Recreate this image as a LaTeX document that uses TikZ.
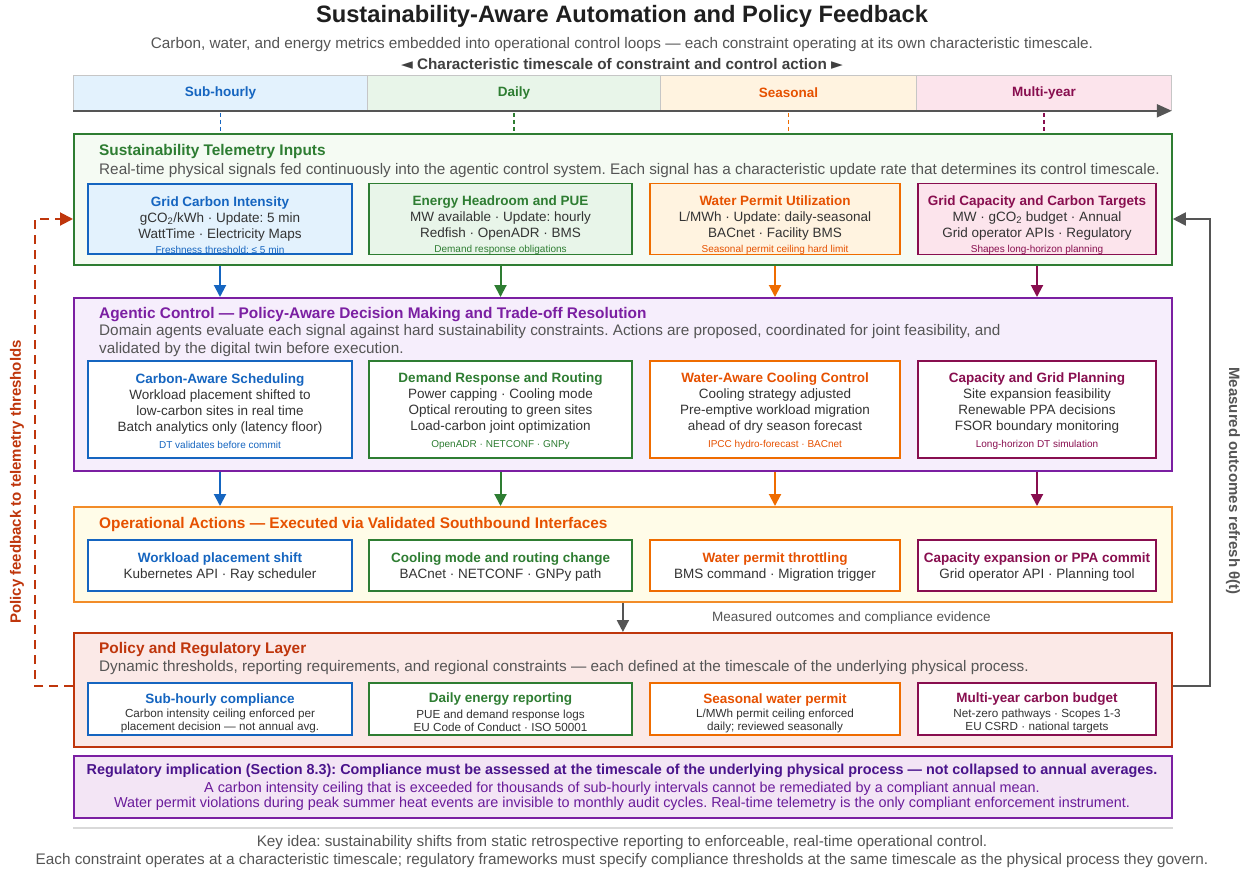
\documentclass[tikz,border=0pt]{standalone}
\usepackage{fontspec}
\setmainfont{Liberation Sans}
\newfontfamily\symfont{DejaVu Sans}
\usetikzlibrary{arrows.meta,positioning}

\definecolor{cblue}{HTML}{1565C0}
\definecolor{fblue}{HTML}{E3F2FD}
\definecolor{cgreen}{HTML}{2E7D32}
\definecolor{fgreen}{HTML}{E8F5E9}
\definecolor{corange}{HTML}{E65100}
\definecolor{borange}{HTML}{EF6C00}
\definecolor{forange}{HTML}{FFF3E0}
\definecolor{cmag}{HTML}{880E4F}
\definecolor{fmag}{HTML}{FCE4EC}
\definecolor{cpurple}{HTML}{7B1FA2}
\definecolor{fpurple}{HTML}{F6EEFC}
\definecolor{dpurple}{HTML}{4A148C}
\definecolor{mpurple}{HTML}{6A1B9A}
\definecolor{fregul}{HTML}{F3E5F5}
\definecolor{cred}{HTML}{BF360C}
\definecolor{fred}{HTML}{FBE9E7}
\definecolor{lorange}{HTML}{F28C28}
\definecolor{fcream}{HTML}{FFFCE8}
\definecolor{ftel}{HTML}{F5FBF3}
\definecolor{txt}{HTML}{333333}
\definecolor{gtxt}{HTML}{555555}
\definecolor{garrow}{HTML}{555555}

\newcommand{\ctitle}[2]{{\bfseries\color{#1}#2}}
\newcommand{\cnote}[2]{{\fontsize{10}{12}\selectfont\color{#1}#2}}
\newcommand{\cpush}[1]{\rule{0pt}{#1pt}}

\tikzset{
  tier/.style={draw=#1, line width=1.8pt, minimum width=1098, anchor=north west, inner sep=0},
  card/.style={draw=#1, line width=1.3pt, align=center, inner sep=0, text=txt,
    font=\fontsize{13.5}{16}\selectfont},
  pcard/.style={draw=#1, line width=1.3pt, inner sep=0, fill=white, minimum height=52},
  phead/.style={inner sep=0, text=#1, font=\fontsize{13.5}{16}\selectfont\bfseries},
  pbody/.style={align=center, inner sep=0, text=txt, font=\fontsize{11.7}{13}\selectfont},
  band/.style={draw=gray!45, line width=0.8pt, minimum height=35, anchor=north west,
    text=#1, font=\fontsize{13.5}{16}\selectfont\bfseries},
  ttitle/.style={anchor=west, inner sep=0, text=#1, font=\fontsize{15.4}{18}\selectfont\bfseries},
  tdesc/.style={anchor=west, inner sep=0, text=gtxt, align=left, font=\fontsize{15.3}{18}\selectfont},
  arr/.style={draw=#1, line width=2pt, -{Triangle[length=12pt,width=12pt]}},
  tickline/.style={draw=#1, line width=1.2pt, dash pattern=on 4pt off 3pt},
  fbdash/.style={draw=cred, line width=2pt, dash pattern=on 9pt off 6pt, -{Triangle[length=13pt,width=13pt]}},
  fbsolid/.style={draw=garrow, line width=2pt, -{Triangle[length=13pt,width=13pt]}},
  sidelab/.style={inner sep=0, text=#1, font=\fontsize{15}{18}\selectfont\bfseries}
}

\begin{document}
\frenchspacing
\begin{tikzpicture}[x=1pt,y=-1pt]
\fill[white] (0,0) rectangle (1247,873);
\useasboundingbox (0,0) rectangle (1247,873);

\node[text=black!88, font=\fontsize{23.7}{28}\selectfont\bfseries] (title) at (622,16) {Sustainability-Aware Automation and Policy Feedback};
\node[text=gtxt, font=\fontsize{15.3}{18}\selectfont] (subtitle) at (622,45) {Carbon, water, and energy metrics embedded into operational control loops — each constraint operating at its own characteristic timescale.};
\node[text=black!75, font=\fontsize{15.3}{17}\selectfont\bfseries] (tslab) at (622,64) {{\symfont ◄} Characteristic timescale of constraint and control action {\symfont ►}};

\node[band=cblue, fill=fblue, minimum width=294] (b1) at (73,75) {Sub-hourly};
\node[band=cgreen, fill=fgreen, minimum width=293] (b2) at (367,75) {Daily};
\node[band=corange, fill=forange, minimum width=256] (b3) at (660,75) {Seasonal};
\node[band=cmag, fill=fmag, minimum width=255] (b4) at (916,75) {Multi-year};
\draw[draw=garrow, line width=2pt, -{Triangle[length=15pt,width=13pt]}] (b1.south west) -- (b4.south east);

\node[tier=cgreen, fill=ftel, minimum height=131] (L1) at (73,133) {};
\node[tier=cpurple, fill=fpurple, minimum height=173] (L2) at (73,297) {};
\node[tier=lorange, fill=fcream, minimum height=95] (L3) at (73,506) {};
\node[tier=cred, fill=fred, minimum height=114] (L4) at (73,632) {};
\node[tier=cpurple, fill=fregul, minimum height=62, line width=1.5pt] (reg) at (73,755) {};

\draw[tickline=cblue] ([yshift=-2pt]b1.south) -- (b1.south |- L1.north);
\draw[tickline=cgreen] ([yshift=-2pt]b2.south) -- (b2.south |- L1.north);
\draw[tickline=borange] ([yshift=-2pt]b3.south) -- (b3.south |- L1.north);
\draw[tickline=cmag] ([yshift=-2pt]b4.south) -- (b4.south |- L1.north);

\node[ttitle=cgreen] (L1t) at (99,152) {Sustainability Telemetry Inputs};
\node[tdesc] (L1d) at (99,171) {Real-time physical signals fed continuously into the agentic control system. Each signal has a characteristic update rate that determines its control timescale.};

\node[card=cblue, fill=fblue, minimum width=264, minimum height=70] (tel1) at (220,219) {\cpush{22}\ctitle{cblue}{Grid Carbon Intensity}\\gCO\textsubscript{2}/kWh · Update: 5 min\\WattTime · Electricity Maps\\[-1pt]\cnote{cblue}{Freshness threshold: ≤ 5 min}};
\node[card=cgreen, fill=fgreen, minimum width=263, minimum height=70] (tel2) at (500.5,219) {\cpush{22}\ctitle{cgreen}{Energy Headroom and PUE}\\MW available · Update: hourly\\Redfish · OpenADR · BMS\\[-1pt]\cnote{cgreen}{Demand response obligations}};
\node[card=borange, fill=forange, minimum width=250, minimum height=70] (tel3) at (775,219) {\cpush{22}\ctitle{corange}{Water Permit Utilization}\\L/MWh · Update: daily-seasonal\\BACnet · Facility BMS\\[-1pt]\cnote{corange}{Seasonal permit ceiling hard limit}};
\node[card=cmag, fill=fmag, minimum width=238, minimum height=70] (tel4) at (1037,219) {\cpush{22}\ctitle{cmag}{Grid Capacity and Carbon Targets}\\MW · gCO\textsubscript{2} budget · Annual\\Grid operator APIs · Regulatory\\[-1pt]\cnote{cmag}{Shapes long-horizon planning}};

\draw[arr=cblue] (tel1 |- L1.south) -- (tel1 |- L2.north);
\draw[arr=cgreen] (tel2 |- L1.south) -- (tel2 |- L2.north);
\draw[arr=borange] (tel3 |- L1.south) -- (tel3 |- L2.north);
\draw[arr=cmag] (tel4 |- L1.south) -- (tel4 |- L2.north);

\node[ttitle=cpurple] (L2t) at (99,315) {Agentic Control — Policy-Aware Decision Making and Trade-off Resolution};
\node[tdesc] (L2d) at (99,341) {Domain agents evaluate each signal against hard sustainability constraints. Actions are proposed, coordinated for joint feasibility, and\\validated by the digital twin before execution.};

\node[card=cblue, fill=white, minimum width=264, minimum height=97] (ag1) at (220,409.5) {\cpush{14}\ctitle{cblue}{Carbon-Aware Scheduling}\\Workload placement shifted to\\low-carbon sites in real time\\Batch analytics only (latency floor)\\[1pt]\cnote{cblue}{DT validates before commit}};
\node[card=cgreen, fill=white, minimum width=263, minimum height=97] (ag2) at (500.5,409.5) {\cpush{14}\ctitle{cgreen}{Demand Response and Routing}\\Power capping · Cooling mode\\Optical rerouting to green sites\\Load-carbon joint optimization\\[1pt]\cnote{cgreen}{OpenADR · NETCONF · GNPy}};
\node[card=borange, fill=white, minimum width=250, minimum height=97] (ag3) at (775,409.5) {\cpush{14}\ctitle{corange}{Water-Aware Cooling Control}\\Cooling strategy adjusted\\Pre-emptive workload migration\\ahead of dry season forecast\\[1pt]\cnote{corange}{IPCC hydro-forecast · BACnet}};
\node[card=cmag, fill=white, minimum width=238, minimum height=97] (ag4) at (1037,409.5) {\cpush{14}\ctitle{cmag}{Capacity and Grid Planning}\\Site expansion feasibility\\Renewable PPA decisions\\FSOR boundary monitoring\\[1pt]\cnote{cmag}{Long-horizon DT simulation}};

\draw[arr=cblue] (ag1 |- L2.south) -- (ag1 |- L3.north);
\draw[arr=cgreen] (ag2 |- L2.south) -- (ag2 |- L3.north);
\draw[arr=borange] (ag3 |- L2.south) -- (ag3 |- L3.north);
\draw[arr=cmag] (ag4 |- L2.south) -- (ag4 |- L3.north);

\node[ttitle=corange] (L3t) at (99,525) {Operational Actions — Executed via Validated Southbound Interfaces};

\node[card=cblue, fill=white, minimum width=264, minimum height=51] (op1) at (220,565.5) {\cpush{12}\ctitle{cblue}{Workload placement shift}\\Kubernetes API · Ray scheduler};
\node[card=cgreen, fill=white, minimum width=263, minimum height=51] (op2) at (500.5,565.5) {\cpush{12}\ctitle{cgreen}{Cooling mode and routing change}\\BACnet · NETCONF · GNPy path};
\node[card=borange, fill=white, minimum width=250, minimum height=51] (op3) at (775,565.5) {\cpush{12}\ctitle{corange}{Water permit throttling}\\BMS command · Migration trigger};
\node[card=cmag, fill=white, minimum width=238, minimum height=51] (op4) at (1037,565.5) {\cpush{12}\ctitle{cmag}{Capacity expansion or PPA commit}\\Grid operator API · Planning tool};

\draw[arr=garrow] (L3.south) -- (L4.north);
\node[anchor=west, inner sep=0, text=gtxt, font=\fontsize{13.5}{16}\selectfont] (meas) at (712,618) {Measured outcomes and compliance evidence};

\node[ttitle=cred] (L4t) at (99,650) {Policy and Regulatory Layer};
\node[tdesc] (L4d) at (99,668) {Dynamic thresholds, reporting requirements, and regional constraints — each defined at the timescale of the underlying physical process.};

\node[pcard=cblue, minimum width=264] (pol1) at (220,709) {};
\node[pcard=cgreen, minimum width=263] (pol2) at (500.5,709) {};
\node[pcard=borange, minimum width=250] (pol3) at (775,709) {};
\node[pcard=cmag, minimum width=238] (pol4) at (1037,709) {};
\node[phead=cblue] (pol1h) at (220,699.5) {Sub-hourly compliance};
\node[phead=cgreen] (pol2h) at (500.5,699.5) {Daily energy reporting};
\node[phead=corange] (pol3h) at (775,699.5) {Seasonal water permit};
\node[phead=cmag] (pol4h) at (1037,699.5) {Multi-year carbon budget};
\node[pbody] (pol1b) at (220,720.5) {Carbon intensity ceiling enforced per\\placement decision — not annual avg.};
\node[pbody] (pol2b) at (500.5,720.5) {PUE and demand response logs\\EU Code of Conduct · ISO 50001};
\node[pbody] (pol3b) at (775,720.5) {L/MWh permit ceiling enforced\\daily; reviewed seasonally};
\node[pbody] (pol4b) at (1037,720.5) {Net-zero pathways · Scopes 1-3\\EU CSRD · national targets};

\coordinate (fbl) at (35,686);
\coordinate (fbr) at (1210,686);
\draw[fbdash] (L4.west |- fbl) -- (fbl) |- (L1.west |- tel1);
\draw[fbsolid] (L4.east |- fbr) -- (fbr) |- (L1.east |- tel4);
\node[sidelab=cred, rotate=90] (fblab) at (17,482) {Policy feedback to telemetry thresholds};
\node[sidelab=gtxt, rotate=-90] (fbrlab) at (1233,481) {Measured outcomes refresh θ(t)};

\node[text=dpurple, font=\fontsize{14.4}{17}\selectfont\bfseries] (reg1) at (622,771) {Regulatory implication (Section 8.3): Compliance must be assessed at the timescale of the underlying physical process — not collapsed to annual averages.};
\node[text=mpurple, font=\fontsize{14.4}{17}\selectfont] (reg2) at (622,789) {A carbon intensity ceiling that is exceeded for thousands of sub-hourly intervals cannot be remediated by a compliant annual mean.};
\node[text=mpurple, font=\fontsize{14.4}{17}\selectfont] (reg3) at (622,804) {Water permit violations during peak summer heat events are invisible to monthly audit cycles. Real-time telemetry is the only compliant enforcement instrument.};

\draw[draw=gray!30, line width=1.5pt] (reg.south west |- 0,828) -- (reg.south east |- 0,828);
\node[text=gtxt, font=\fontsize{15.3}{18}\selectfont] (key1) at (622,843) {Key idea: sustainability shifts from static retrospective reporting to enforceable, real-time operational control.};
\node[text=gtxt, font=\fontsize{15.3}{18}\selectfont] (key2) at (622,861) {Each constraint operates at a characteristic timescale; regulatory frameworks must specify compliance thresholds at the same timescale as the physical process they govern.};
\end{tikzpicture}
\end{document}
